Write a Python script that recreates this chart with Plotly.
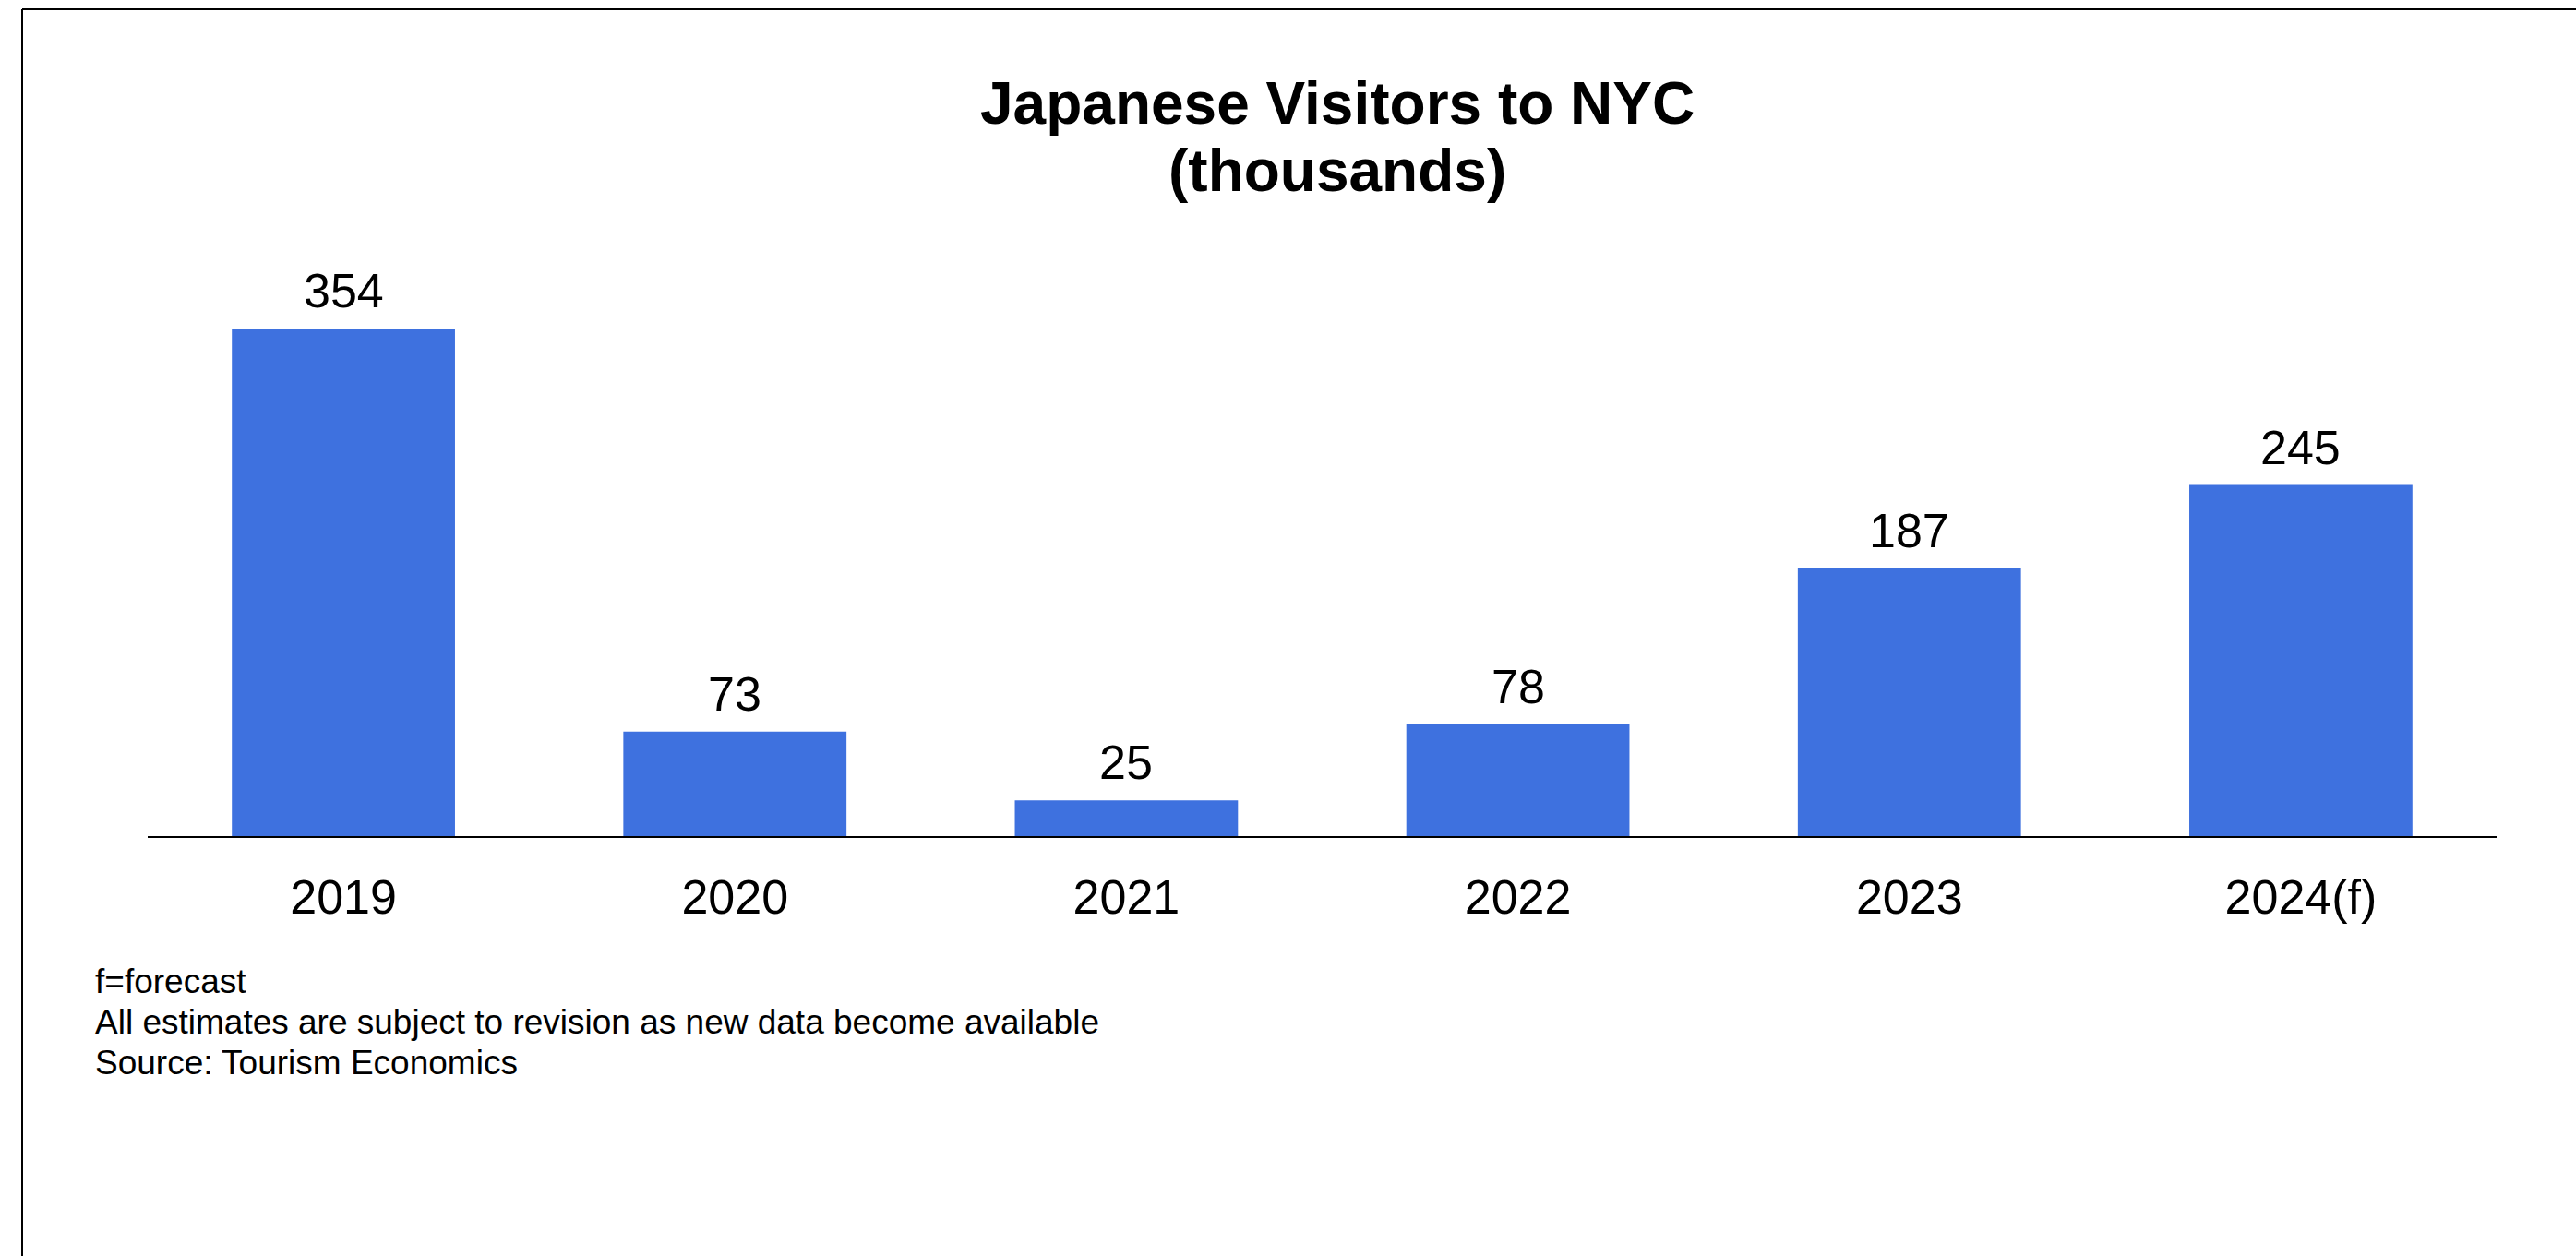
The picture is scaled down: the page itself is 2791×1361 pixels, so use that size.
import plotly.graph_objects as go

# Japanese visitors to NYC, thousands
years = ["2019", "2020", "2021", "2022", "2023", "2024(f)"]
visitors = [354, 73, 25, 78, 187, 245]

title_line1 = "Japanese Visitors to NYC"
title_line2 = "(thousands)"
footnotes = [
    "f=forecast",
    "All estimates are subject to revision as new data become available",
    "Source: Tourism Economics",
]

W, H = 2791, 1361
M_L, M_R, M_T, M_B = 160, 86, 316, 455
PLOT_W = W - M_L - M_R
PLOT_H = H - M_T - M_B
FONT = "Liberation Sans, Arial, Helvetica, sans-serif"
BAR_COLOR = "#3e71df"


def px_x(px):
    """Convert a page x pixel to paper coordinates."""
    return (px - M_L) / PLOT_W


def px_y(py):
    """Convert a page y pixel to paper coordinates."""
    return (H - M_B - py) / PLOT_H


fig = go.Figure(
    go.Bar(
        x=years,
        y=visitors,
        marker=dict(color=BAR_COLOR, line=dict(width=0)),
        hoverinfo="x+y",
    )
)

# value labels above each bar (category index keeps year-like names
# from being read as numeric positions)
for i, v in enumerate(visitors):
    fig.add_annotation(
        x=i, y=v, xref="x", yref="y",
        text=str(v), showarrow=False,
        xanchor="center", yanchor="bottom", yshift=10,
        font=dict(family=FONT, size=52, color="#000000"),
    )

# two-line bold title
title_cx = px_x(1449)
fig.add_annotation(
    x=title_cx, y=px_y(150), xref="paper", yref="paper",
    text="<b>" + title_line1 + "</b>", showarrow=False,
    xanchor="center", yanchor="bottom",
    font=dict(family=FONT, size=64, color="#000000"),
)
fig.add_annotation(
    x=title_cx, y=px_y(223), xref="paper", yref="paper",
    text="<b>" + title_line2 + "</b>", showarrow=False,
    xanchor="center", yanchor="bottom",
    font=dict(family=FONT, size=64, color="#000000"),
)

# footnotes
for i, line in enumerate(footnotes):
    fig.add_annotation(
        x=px_x(101), y=px_y(1086 + i * 44), xref="paper", yref="paper",
        text=line, showarrow=False,
        xanchor="left", yanchor="bottom",
        font=dict(family=FONT, size=37, color="#000000"),
    )

# outer frame (top and left edges)
fig.add_shape(
    type="line", xref="paper", yref="paper",
    x0=px_x(24), x1=px_x(W + 20), y0=px_y(10), y1=px_y(10),
    line=dict(color="#000000", width=2),
)
fig.add_shape(
    type="line", xref="paper", yref="paper",
    x0=px_x(24), x1=px_x(24), y0=px_y(10), y1=px_y(H + 20),
    line=dict(color="#000000", width=2),
)

fig.update_layout(
    width=W, height=H,
    margin=dict(l=M_L, r=M_R, t=M_T, b=M_B, pad=0),
    paper_bgcolor="#ffffff",
    plot_bgcolor="#ffffff",
    showlegend=False,
    bargap=0.43,
    font=dict(family=FONT, color="#000000"),
    xaxis=dict(
        type="category",
        range=[-0.5, len(years) - 0.5],
        showline=True, linecolor="#000000", linewidth=2,
        showgrid=False, zeroline=False,
        ticks="outside", ticklen=20, tickcolor="rgba(0,0,0,0)",
        tickfont=dict(family=FONT, size=52, color="#000000"),
        fixedrange=True,
    ),
    yaxis=dict(
        range=[0, 380],
        visible=False,
        showgrid=False, zeroline=False,
        fixedrange=True,
    ),
)

fig.write_html("out.html")
